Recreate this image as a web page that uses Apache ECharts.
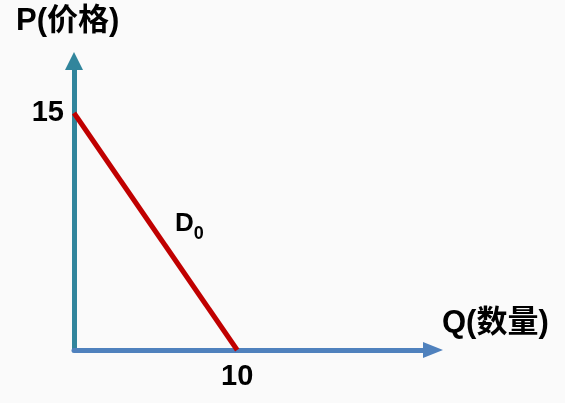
<!DOCTYPE html>
<html><head><meta charset="utf-8">
<script src="https://cdn.jsdelivr.net/npm/echarts@6/dist/echarts.min.js"></script>
<style>html,body{margin:0;padding:0;background:#fafafa}#c{width:565px;height:403px}</style>
</head><body><div id="c"></div>
<script>
var demandQ = [0, 10];
var demandP = [15, 0];
var yTicks = [15];
var xTicks = [10];
var yName = 'P(价格)';
var xName = 'Q(数量)';
var curveLabel = 'D';
var curveSub = '0';

var chart = echarts.init(document.getElementById('c'));
var fontLat = '"Liberation Sans", Arial, "Noto Sans CJK SC", sans-serif';
chart.setOption({
  backgroundColor: '#fafafa',
  animation: false,
  grid: {left: 74, top: 61, width: 359, height: 289, containLabel: false},
  xAxis: {
    type: 'value', min: 0, max: 22,
    splitLine: {show: false},
    axisTick: {show: false},
    axisLine: {show: true, lineStyle: {color: '#4F81BD', width: 5}, symbol: ['none', 'triangle'], symbolSize: [16, 20]},
    axisLabel: {show: true, customValues: xTicks, formatter: function(v){return String(v);}, color: '#000', fontWeight: 'bold', fontSize: 29, fontFamily: fontLat, margin: 12}
  },
  yAxis: {
    type: 'value', min: 0, max: 18.29,
    splitLine: {show: false},
    axisTick: {show: false},
    axisLine: {show: true, lineStyle: {color: '#31859C', width: 5}, symbol: ['none', 'triangle'], symbolSize: [18, 18]},
    axisLabel: {show: true, customValues: yTicks, formatter: function(v){return String(v);}, color: '#000', fontWeight: 'bold', fontSize: 29, fontFamily: fontLat, margin: 10}
  },
  series: [{
    type: 'line',
    data: demandQ.map(function(q, i){return [q, demandP[i]];}),
    symbol: 'none',
    lineStyle: {color: '#C00000', width: 5},
    z: 3
  }],
  graphic: [
    {type: 'text', left: 16, top: 6, style: {text: yName, font: 'bold 31px ' + fontLat, fill: '#000'}},
    {type: 'text', left: 442, top: 308, style: {text: xName, font: 'bold 31px ' + fontLat, fill: '#000'}},
    {type: 'text', left: 175, top: 211, style: {
      text: '{a|' + curveLabel + '}{b|' + curveSub + '}',
      rich: {
        a: {font: 'bold 26px ' + fontLat, fill: '#000', verticalAlign: 'bottom'},
        b: {font: 'bold 18px ' + fontLat, fill: '#000', verticalAlign: 'bottom', padding: [0,0,-6,0]}
      }
    }}
  ]
});
</script></body></html>
